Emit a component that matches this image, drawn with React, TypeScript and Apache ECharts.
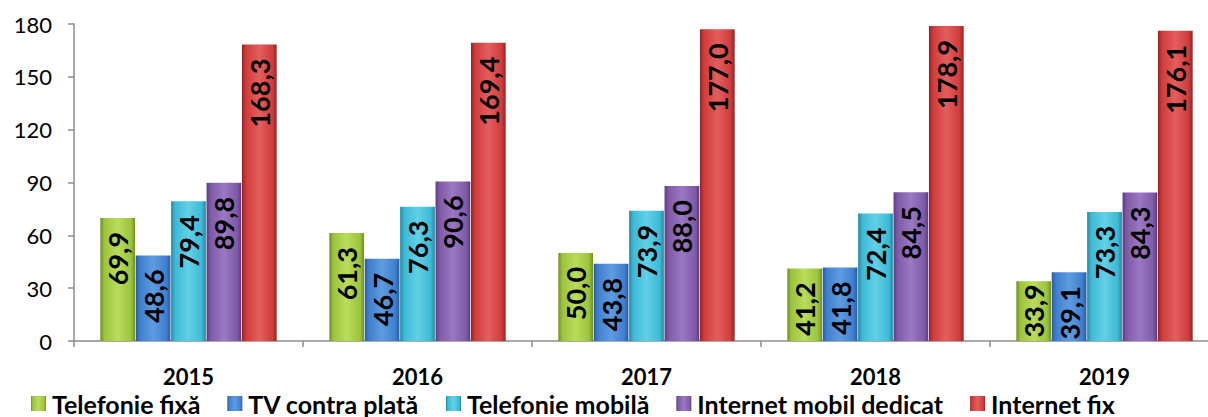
import React, { useEffect, useRef } from "react";
import * as echarts from "echarts";

const years = ["2015", "2016", "2017", "2018", "2019"];
const seriesNames = ["Telefonie fixă", "TV contra plată", "Telefonie mobilă", "Internet mobil dedicat", "Internet fix"];
const telefonieFixa = [69.9, 61.3, 50.0, 41.2, 33.9];
const tvContraPlata = [48.6, 46.7, 43.8, 41.8, 39.1];
const telefonieMobila = [79.4, 76.3, 73.9, 72.4, 73.3];
const internetMobilDedicat = [89.8, 90.6, 88.0, 84.5, 84.3];
const internetFix = [168.3, 169.4, 177.0, 178.9, 176.1];
const yTicks = { min: 0, max: 180, interval: 30 };

const palette = [
  { base: "#9cc43c", dark: "#6f8f22", light: "#b9dc5c" },
  { base: "#3f7fcf", dark: "#2a5a9a", light: "#5e9be0" },
  { base: "#3dbad6", dark: "#23879f", light: "#62d0e6" },
  { base: "#7f5aa8", dark: "#5a3d7d", light: "#9a78c2" },
  { base: "#d03c3c", dark: "#962323", light: "#e35e5e" },
];

const FONT = "Lato, 'Open Sans', sans-serif";

export default function App() {
  const ref = useRef<HTMLDivElement>(null);
  useEffect(() => {
    if (!ref.current) return;
    const chart = echarts.init(ref.current, null, { renderer: "svg" });
    const allData = [telefonieFixa, tvContraPlata, telefonieMobila, internetMobilDedicat, internetFix];
    const series = allData.map((arr, si) => ({
      name: seriesNames[si],
      type: "bar",
      barGap: "2%",
      barCategoryGap: "23%",
      itemStyle: {
        color: new echarts.graphic.LinearGradient(0, 0, 1, 0, [
          { offset: 0, color: palette[si].dark },
          { offset: 0.12, color: palette[si].base },
          { offset: 0.5, color: palette[si].light },
          { offset: 0.88, color: palette[si].base },
          { offset: 1, color: palette[si].dark },
        ]),
      },
      label: {
        show: true,
        position: "insideTop",
        rotate: 90,
        align: "right",
        verticalAlign: "middle",
        distance: 14,
        fontSize: 27,
        fontWeight: "bold",
        fontFamily: FONT,
        color: "#000",
        formatter: (p: any) => Number(p.value).toFixed(1).replace(".", ","),
      },
      data: arr.map((v, i) =>
        si === 0 && i === 4 ? { value: v, label: { distance: 3 } } : v
      ),
    }));
    chart.setOption({
      animation: false,
      color: palette.map((p) => p.base),
      grid: {
        left: 74,
        right: -11,
        top: 24,
        bottom: 76,
        containLabel: false,
        outerBoundsMode: "none",
      },
      legend: {
        data: seriesNames,
        left: 31,
        top: 391,
        padding: 0,
        icon: "rect",
        itemWidth: 15,
        itemHeight: 15,
        itemGap: 27,
        textStyle: {
          fontFamily: FONT,
          fontWeight: "bold",
          fontSize: 25,
          lineHeight: 25,
          color: "#000",
          padding: [0, 0, 0, 1],
        },
      },
      xAxis: {
        type: "category",
        data: years,
        axisLine: { lineStyle: { color: "#8c8c8c", width: 1.5 } },
        axisTick: { show: true, alignWithLabel: false, length: 6, lineStyle: { color: "#8c8c8c", width: 1.5 } },
        axisLabel: { fontFamily: FONT, fontWeight: "bold", fontSize: 22, lineHeight: 22, color: "#000", margin: 24 },
      },
      yAxis: {
        type: "value",
        min: yTicks.min,
        max: yTicks.max,
        interval: yTicks.interval,
        splitLine: { show: false },
        axisLine: { show: true, lineStyle: { color: "#8c8c8c", width: 1.5 } },
        axisTick: { show: true, length: 6, lineStyle: { color: "#8c8c8c", width: 1.5 } },
        axisLabel: { fontFamily: FONT, fontSize: 22, color: "#000", margin: 22 },
      },
      series,
    });
    return () => chart.dispose();
  }, []);
  return (
    <div
      ref={ref}
      style={{ position: "fixed", left: 0, top: 0, width: 1208, height: 417, background: "#fff" }}
    />
  );
}
